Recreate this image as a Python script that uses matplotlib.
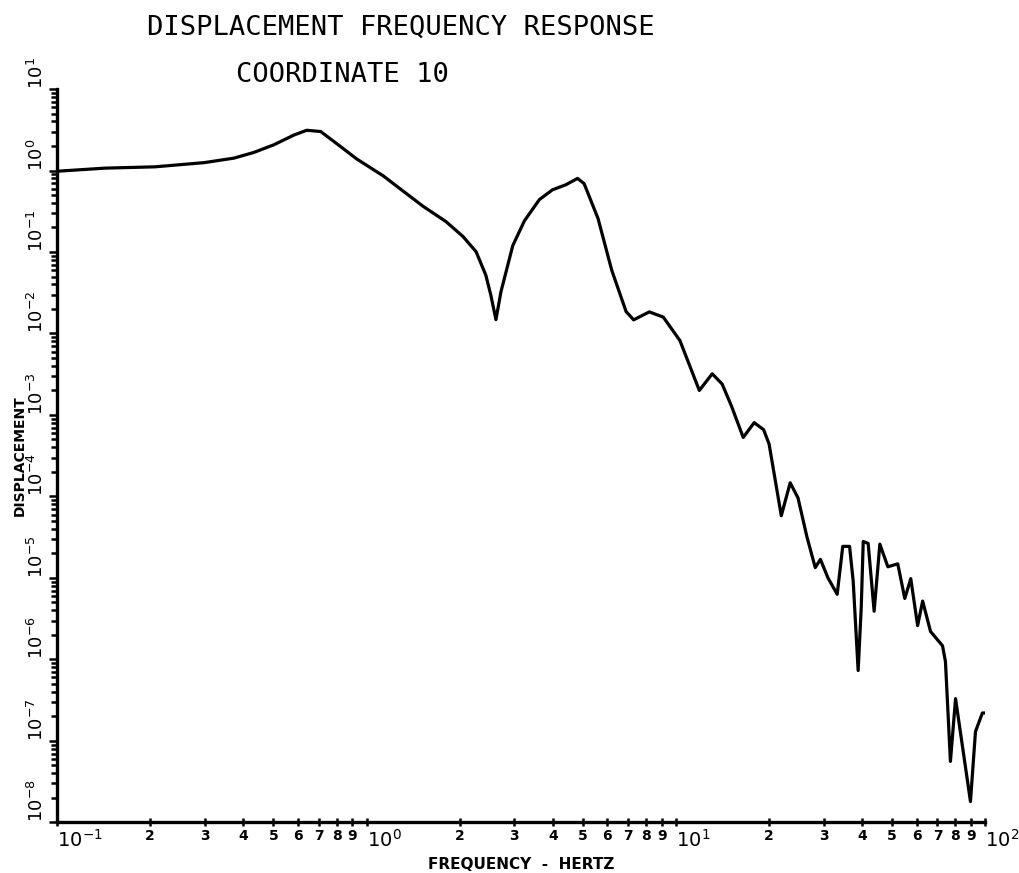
import matplotlib
matplotlib.use("Agg")
import matplotlib.pyplot as plt
from matplotlib.ticker import FixedLocator, FixedFormatter, NullFormatter

# frequency (Hz) and displacement
freq = [0.1, 0.143, 0.207, 0.299, 0.373, 0.433, 0.502, 0.582, 0.641, 0.711,
        0.801, 0.929, 1.135, 1.315, 1.525, 1.807, 2.05, 2.26, 2.43, 2.52,
        2.62, 2.72, 2.97, 3.24, 3.62, 3.99, 4.40, 4.81, 5.05, 5.6, 6.2,
        6.9, 7.3, 8.2, 9.1, 10.3, 11.9, 13.1, 14.1, 15.1, 16.5, 17.9, 19.2,
        20.0, 21.9, 23.4, 24.8, 26.5, 28.2, 29.3, 31.0, 33.2, 34.6, 36.4,
        37.4, 38.8, 39.7, 40.3, 41.8, 43.7, 45.6, 48.4, 52.1, 54.9, 57.4,
        60.4, 62.7, 66.5, 72.7, 74.3, 77.1, 80.1, 89.5, 92.9, 97.8, 100.0]
disp = [0.98, 1.07, 1.11, 1.25, 1.42, 1.67, 2.07, 2.72, 3.12, 3.01,
        2.14, 1.39, 0.855, 0.557, 0.363, 0.236, 0.155, 0.101, 0.052, 0.030,
        0.0148, 0.0326, 0.12, 0.242, 0.44, 0.58, 0.667, 0.80, 0.69, 0.258, 0.060,
        0.0186, 0.0147, 0.0184, 0.0159, 0.0082, 0.0020, 0.0032, 0.0024, 0.0013, 5.3e-4, 8.05e-4, 6.6e-4,
        4.4e-4, 5.8e-5, 1.47e-4, 9.6e-5, 3.2e-5, 1.34e-5, 1.69e-5, 1.0e-5, 6.3e-6, 2.44e-5, 2.44e-5,
        9.1e-6, 7.3e-7, 4.3e-6, 2.8e-5, 2.65e-5, 3.9e-6, 2.6e-5, 1.37e-5, 1.49e-5, 5.6e-6, 9.8e-6,
        2.6e-6, 5.2e-6, 2.2e-6, 1.47e-6, 9.4e-7, 5.6e-8, 3.3e-7, 1.8e-8, 1.3e-7, 2.2e-7, 2.2e-7]

x_major = [0.1, 1, 10, 100]
x_major_labels = ["$10^{-1}$", "$10^{0}$", "$10^{1}$", "$10^{2}$"]
x_minor_digits = ["2", "3", "4", "5", "6", "7", "8", "9"]
y_major = [1e-8, 1e-7, 1e-6, 1e-5, 1e-4, 1e-3, 1e-2, 1e-1, 1e0, 1e1]
y_major_labels = ["$10^{-8}$", "$10^{-7}$", "$10^{-6}$", "$10^{-5}$", "$10^{-4}$",
                  "$10^{-3}$", "$10^{-2}$", "$10^{-1}$", "$10^{0}$", "$10^{1}$"]

fig = plt.figure(figsize=(10.19, 8.73), dpi=100)
ax = fig.add_axes([0.056, 0.058, 0.911, 0.84])

ax.plot(freq, disp, color="black", lw=2.3, solid_joinstyle="round")
ax.set_xscale("log")
ax.set_yscale("log")
ax.set_xlim(0.1, 100)
ax.set_ylim(1e-8, 10)

for s in ["top", "right"]:
    ax.spines[s].set_visible(False)
ax.spines["left"].set_linewidth(2.4)
ax.spines["bottom"].set_linewidth(2.4)

# x ticks: decades plus labelled 2..9
minor_x = [d * m for d in [0.1, 1, 10] for m in range(2, 10)]
ax.xaxis.set_major_locator(FixedLocator(x_major))
ax.xaxis.set_major_formatter(FixedFormatter(x_major_labels))
ax.xaxis.set_minor_locator(FixedLocator(minor_x))
ax.xaxis.set_minor_formatter(FixedFormatter(x_minor_digits * 3))
ax.tick_params(axis="x", which="both", direction="inout", length=6, width=1.8,
               pad=2)
ax.tick_params(axis="x", which="major", labelsize=14)
ax.tick_params(axis="x", which="minor", labelsize=10)
for lab in ax.get_xticklabels():
    lab.set_horizontalalignment("left")
    lab.set_fontweight("bold")
for lab in ax.get_xticklabels(minor=True):
    lab.set_fontweight("bold")

minor_y = [d * m for d in y_major[:-1] for m in range(2, 10)]
ax.yaxis.set_major_locator(FixedLocator(y_major))
ax.yaxis.set_major_formatter(FixedFormatter(y_major_labels))
ax.yaxis.set_minor_locator(FixedLocator(minor_y))
ax.yaxis.set_minor_formatter(NullFormatter())
ax.tick_params(axis="y", which="major", direction="out", length=6, width=1.8,
               labelsize=13, labelrotation=90, pad=1)
ax.tick_params(axis="y", which="minor", direction="out", length=4, width=1.8)
for lab in ax.get_yticklabels():
    lab.set_verticalalignment("bottom")
    lab.set_fontweight("bold")

ax.set_xlabel("FREQUENCY  -  HERTZ", fontsize=11, fontweight="bold", labelpad=4)
ax.set_ylabel("DISPLACEMENT", fontsize=10, fontweight="bold", labelpad=0)

fig.text(0.393, 0.968, "DISPLACEMENT FREQUENCY RESPONSE", ha="center", va="center",
         fontsize=19.5, family="DejaVu Sans Mono")
fig.text(0.336, 0.914, "COORDINATE 10", ha="center", va="center",
         fontsize=19.5, family="DejaVu Sans Mono")

fig.savefig("out.png", dpi=100)
